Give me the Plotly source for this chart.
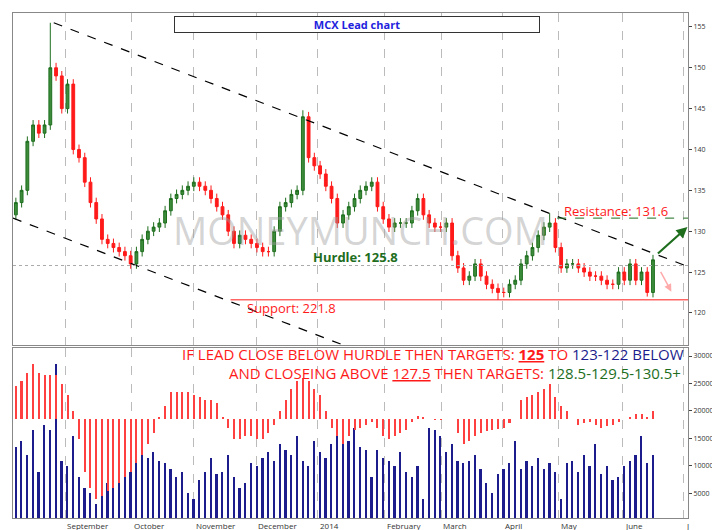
import plotly.graph_objects as go

# closes, roughly every second trading day (Aug 2013 - Jun 2014)
closes = [133.5, 135, 141, 143, 142, 143, 150, 149, 145, 148,
          140, 139, 136, 133.5, 131.5, 129, 128.5, 128, 127.5, 127,
          126, 127.5, 129, 130, 130.5, 131, 132.5, 134, 134.5, 135,
          135.5, 136, 135.5, 135, 134, 133, 132, 130, 128.5, 129.5,
          129, 128.5, 128, 127.5, 127.5, 130, 133, 133.5, 134.5, 135,
          144, 139, 138, 137, 135.5, 134, 131, 132, 133, 134,
          135, 135.5, 136, 133, 131.5, 130.5, 131, 131, 131, 132.5,
          134, 132, 131, 130.5, 130.5, 131, 127, 125.5, 124, 124.5,
          126, 124.5, 123.5, 123, 122.5, 122.5, 123.5, 124, 126, 127,
          128, 129.5, 130.5, 131, 128, 125.5, 126, 126, 125.5, 125,
          124.5, 124.5, 124, 123.5, 123.5, 125, 124, 126, 124, 125,
          122.5, 126.5]
first_open = 132
spike_highs = {6: 155.5, 50: 144.8, 93: 132.2}
spike_lows = {84: 121.6, 110: 122.0}

oscillator = [24500, 25500, 27000, 28500, 27000, 26500, 26500, 26500, 25000, 23000,
              20000, 15000, 9000, 6000, 4000, 4500, 5500, 6000, 7000, 8000,
              9000, 10500, 12000, 14000, 16000, 19000, 21000, 23500, 23500, 23500,
              23500, 23000, 22500, 22000, 22000, 21500, 19000, 17000, 15000, 15000,
              15500, 15500, 15000, 15000, 16000, 17500, 20000, 22000, 24000, 25500,
              26000, 25500, 24000, 23000, 20000, 17000, 15500, 14000, 15500, 16500,
              17000, 17500, 18000, 17000, 15500, 15000, 15500, 16000, 16500, 18000,
              19200, 19000, 18500, 18400, 18400, 18500, 18500, 16000, 14000, 14500,
              15500, 16000, 16300, 16500, 16800, 17000, 17800, 18500, 22000, 22500,
              23000, 23500, 24000, 25000, 22500, 21000, 20000, 18500, 17500, 17800,
              18000, 17500, 17000, 17300, 17500, 18000, 18500, 19000, 19500, 19500,
              19000, 20000]
osc_base = 18500

volume = [13500, 14500, 12000, 16500, 9000, 17500, 16500, 28500, 11000, 10000,
          15500, 8000, 6000, 5000, 3000, 5000, 7000, 6500, 8500, 9500,
          9000, 12000, 13000, 11500, 12500, 11000, 10500, 9500, 8000, 9000,
          5000, 4000, 7500, 9000, 11500, 8500, 9000, 12000, 8000, 6000,
          7000, 10500, 10000, 11500, 12500, 11000, 14000, 13000, 12000, 15500,
          11000, 10000, 14500, 12500, 11500, 14000, 16000, 15000, 14500, 17000,
          13500, 13000, 8000, 13000, 11500, 11000, 10000, 12500, 9000, 8000,
          10000, 4000, 17000, 16500, 15500, 12500, 14000, 11000, 10500, 11000,
          12000, 9500, 7000, 5000, 8500, 9500, 10500, 14500, 9500, 11000,
          10000, 11500, 9500, 10500, 9000, 4000, 10500, 11000, 9000, 12000,
          10000, 14000, 8500, 10000, 7500, 8000, 10000, 11000, 12000, 15500,
          10500, 12000]

month_labels = ["September", "October", "November", "December", "2014",
                "February", "March", "April", "May", "June", "J"]
month_pos = [8.6, 20.2, 31, 41.9, 52.6, 64.3, 74.1, 84.8, 94.6, 105.7, 116.4]

x = list(range(len(closes)))
opens = [first_open] + closes[:-1]
highs = [max(o, c) + 0.6 for o, c in zip(opens, closes)]
lows = [min(o, c) - 0.6 for o, c in zip(opens, closes)]
for k, v in spike_highs.items():
    highs[k] = v
for k, v in spike_lows.items():
    lows[k] = v

GREEN = "#1e6e1e"
RED = "#ff1a1a"
XR = [-0.5, 117.1]

fig = go.Figure()
fig.add_trace(go.Candlestick(
    x=x, open=opens, high=highs, low=lows, close=closes,
    increasing=dict(line=dict(color=GREEN, width=1), fillcolor="#3c8c3c"),
    decreasing=dict(line=dict(color=RED, width=1), fillcolor=RED),
    whiskerwidth=0, xaxis="x", yaxis="y", showlegend=False))

fig.add_trace(go.Bar(
    x=x, y=volume, marker=dict(color="#1c1c8c", line_width=0), width=0.3,
    xaxis="x2", yaxis="y2", showlegend=False))
fig.add_trace(go.Bar(
    x=x, y=[v - osc_base for v in oscillator], base=osc_base,
    marker=dict(color="#ff4040", line_width=0), width=0.35,
    xaxis="x2", yaxis="y2", showlegend=False))

grid = dict(showgrid=True, gridcolor="#bbbbbb", griddash="dash", gridwidth=1,
            tickvals=month_pos, showticklabels=False, range=XR, zeroline=False,
            showline=True, linecolor="#888888", mirror=True, ticks="")
fig.update_layout(
    width=720, height=530, margin=dict(l=5, r=40, t=5, b=20),
    paper_bgcolor="white", plot_bgcolor="white", bargap=0, barmode="overlay",
    font=dict(family="Open Sans", size=7, color="#333333"),
    xaxis=dict(domain=[0, 1], anchor="y", rangeslider=dict(visible=False), **grid),
    xaxis2=dict(domain=[0, 1], anchor="y2", **grid),
    yaxis=dict(domain=[0.343, 1], range=[116.1, 156.7], side="right",
               tickvals=[120, 125, 130, 135, 140, 145, 150, 155], showgrid=False,
               ticks="outside", ticklen=3, showline=True, linecolor="#888888", mirror=True),
    yaxis2=dict(domain=[0, 0.337], range=[500, 31500], side="right",
                tickvals=[5000, 10000, 15000, 20000, 25000, 30000], showgrid=False,
                tickformat="d", ticks="outside", ticklen=3, showline=True,
                linecolor="#888888", mirror=True),
)

slope = -0.27
shapes = [
    dict(type="line", x0=6.6, y0=155.5, x1=117.1, y1=155.5 + slope * 110.5,
         line=dict(color="black", dash="dash", width=1.2)),
    dict(type="line", x0=-0.5, y0=131.6, x1=57.5, y1=131.6 + slope * 58,
         line=dict(color="black", dash="dash", width=1.2)),
    dict(type="line", x0=37.4, y0=121.6, x1=117.1, y1=121.6, line=dict(color=RED, width=1)),
    dict(type="line", x0=-0.5, y0=125.8, x1=117.1, y1=125.8,
         line=dict(color="#aaaaaa", dash="dot", width=1)),
    dict(type="line", x0=94.3, y0=131.6, x1=117.1, y1=131.6,
         line=dict(color=GREEN, dash="dash", width=1)),
]
for s in shapes:
    s.update(xref="x", yref="y")
fig.update_layout(shapes=shapes)

ann = [
    dict(x=114, y=132.5, text="Resistance: 131.6", font=dict(color=RED, size=13), xanchor="right"),
    dict(x=67, y=126.9, text="<b>Hurdle: 125.8</b>", font=dict(color=GREEN, size=13), xanchor="right"),
    dict(x=48, y=120.6, text="Support: 221.8", font=dict(color=RED, size=13), xanchor="center"),
    dict(x=60, y=130.2, text="MONEYMUNCH.COM", font=dict(color="rgba(160,160,160,0.45)", size=38),
         xanchor="center"),
    dict(x=117, y=130.5, ax=111.6, ay=127.1, text="", showarrow=True, arrowcolor=GREEN,
         arrowwidth=2.2, arrowhead=2, axref="x", ayref="y"),
    dict(x=114.2, y=122.6, ax=112.2, ay=125.2, text="", showarrow=True, arrowcolor="#ffaaaa",
         arrowwidth=1.5, arrowhead=2, axref="x", ayref="y"),
]
for a in ann:
    a.update(xref="x", yref="y")
    a.setdefault("showarrow", False)

ann.append(dict(x=0.51, y=0.995, xref="paper", yref="paper", showarrow=False,
                text="<b>MCX Lead chart</b>", font=dict(color="#2222dd", size=11),
                bgcolor="white", bordercolor="#333333", borderwidth=1, borderpad=0,
                width=364, yanchor="top"))
ann.append(dict(x=116.8, y=30300, xref="x2", yref="y2", showarrow=False, xanchor="right",
                yanchor="middle", font=dict(size=15),
                text="<span style='color:#ff1a1a'>IF LEAD CLOSE BELOW HURDLE THEN TARGETS: <b><u>125</u></b> TO </span>"
                     "<span style='color:#1c1c8c'>123-122 BELOW</span>"))
ann.append(dict(x=116.2, y=27000, xref="x2", yref="y2", showarrow=False, xanchor="right",
                yanchor="middle", font=dict(size=15),
                text="<span style='color:#ff1a1a'>AND CLOSEING ABOVE <u>127.5</u> THEN TARGETS: </span>"
                     "<span style='color:#1e6e1e'>128.5-129.5-130.5+</span>"))
for lbl, p in zip(month_labels, month_pos):
    ann.append(dict(x=p, y=0, xref="x2", yref="paper", showarrow=False,
                    xanchor="left", yanchor="top", text=lbl, font=dict(size=8, color="#333333")))
fig.update_layout(annotations=ann)

fig.write_html("out.html")
